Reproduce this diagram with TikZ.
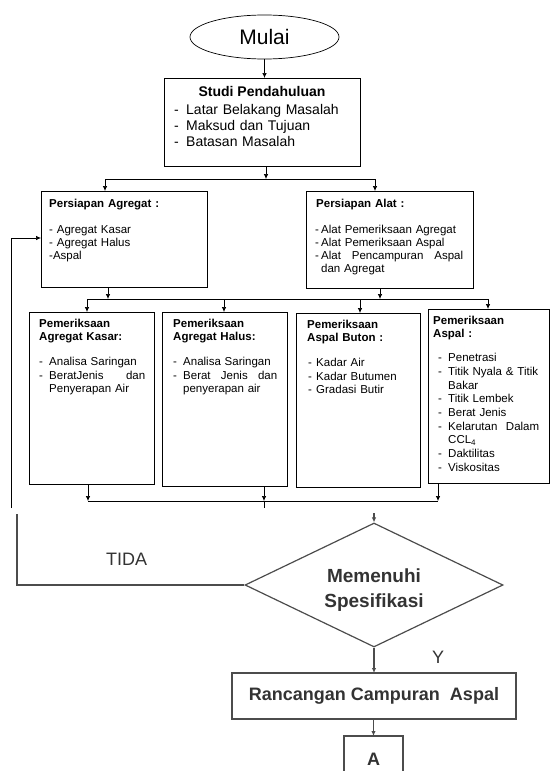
\documentclass[tikz,border=0pt]{standalone}
\usepackage{fontspec}
\setmainfont{Liberation Sans}
\usetikzlibrary{shapes.geometric,arrows.meta,calc}
\newcommand\dsh[1][9pt]{\makebox[#1][l]{-}}
\newcommand\hind[1][9pt]{\hspace*{#1}}
\newcommand\jline[2]{\makebox[#1][l]{#2}}
\begin{document}
\begin{tikzpicture}[x=1pt,y=-1pt,
  box/.style={draw, line width=0.7pt, anchor=north west, inner sep=0pt, outer sep=0pt},
  txt/.style={anchor=base west, inner sep=0pt, align=left, text width=130pt, font=\fontsize{11.5}{13.7}\selectfont},
  arr/.style={-{Latex[length=5pt,width=4.5pt]}, line width=0.7pt},
  ln/.style={line width=0.7pt},
  low/.style={line width=1.2pt, draw=black!70},
  lowtxt/.style={text=black!80, inner sep=0pt}
]
\useasboundingbox (0,0) rectangle (559,771);
% --- nodes
\node[ellipse, draw, line width=0.7pt, minimum width=149pt, minimum height=44pt, inner sep=0pt,
      font=\fontsize{21}{24}\selectfont] (mulai) at (264.5,37) {Mulai};
\node[box, minimum width=196pt, minimum height=88pt] (studi) at (164,78) {};
\node[anchor=base, inner sep=0pt, font=\fontsize{14}{16}\selectfont\bfseries] (studiT) at (262,96) {Studi Pendahuluan};
\node[txt, text width=180pt, font=\fontsize{14}{16}\selectfont] (studiL) at (174,114)
  {\dsh[12pt]Latar Belakang Masalah\\ \dsh[12pt]Maksud dan Tujuan\\ \dsh[12pt]Batasan Masalah};

\node[box, minimum width=166pt, minimum height=96pt] (pa) at (41,191) {};
\node[txt, font=\fontsize{11.5}{13}\selectfont] (paT) at (49,207)
  {\textbf{Persiapan Agregat :}\\[13pt]- Agregat Kasar\\- Agregat Halus\\-Aspal};

\node[box, minimum width=167pt, minimum height=97pt] (alat) at (306,191) {};
\node[txt, text width=160pt, font=\fontsize{11.5}{13}\selectfont] (alatT) at (315,207)
  {\hind[1pt]\textbf{Persiapan Alat :}\\[13pt]\dsh[6pt]Alat Pemeriksaan Agregat\\ \dsh[6pt]Alat Pemeriksaan Aspal\\
   \dsh[6pt]\jline{142pt}{Alat\hfill Pencampuran\hfill Aspal}\\ \hind[6pt]dan Agregat};

\node[box, minimum width=125pt, minimum height=172pt] (kasar) at (29,312) {};
\node[txt] (kasarT) at (39,327)
  {\textbf{Pemeriksaan}\\ \textbf{Agregat Kasar:}\\[11pt]\dsh[10pt]Analisa Saringan\\
   \dsh[10pt]\jline{96pt}{BeratJenis\hfill dan}\\ \hind[10pt]Penyerapan Air};

\node[box, minimum width=125pt, minimum height=174pt] (halus) at (162,312) {};
\node[txt] (halusT) at (173,327)
  {\textbf{Pemeriksaan}\\ \textbf{Agregat Halus:}\\[11pt]\dsh[10pt]Analisa Saringan\\
   \dsh[10pt]\jline{94pt}{Berat\hfill Jenis\hfill dan}\\ \hind[10pt]penyerapan air};

\node[box, minimum width=124pt, minimum height=174pt] (buton) at (296,313) {};
\node[txt] (butonT) at (307,328)
  {\textbf{Pemeriksaan}\\ \textbf{Aspal Buton :}\\[11pt]\hind[1pt]\dsh[8pt]Kadar Air\\
   \hind[1pt]\dsh[8pt]Kadar Butumen\\ \hind[1pt]\dsh[8pt]Gradasi Butir};

\node[box, minimum width=121pt, minimum height=174pt] (aspal) at (428,309) {};
\node[txt] (aspalT) at (433,324)
  {\textbf{Pemeriksaan}\\ \textbf{Aspal :}\\[10.3pt]
   \hind[5pt]\dsh[10pt]Penetrasi\\
   \hind[5pt]\dsh[10pt]Titik Nyala \& Titik\\
   \hind[15pt]Bakar\\
   \hind[5pt]\dsh[10pt]Titik Lembek\\
   \hind[5pt]\dsh[10pt]Berat Jenis\\
   \hind[5pt]\dsh[10pt]\jline{91pt}{Kelarutan\hfill Dalam}\\
   \hind[15pt]CCL\textsubscript{4}\\
   \hind[5pt]\dsh[10pt]Daktilitas\\
   \hind[5pt]\dsh[10pt]Viskositas};

\node[diamond, draw=black!70, line width=1.2pt, minimum width=258pt, minimum height=124pt, inner sep=0pt] (dia) at (374,585) {};
\node[lowtxt, anchor=base, align=center, text width=140pt, font=\fontsize{19}{25}\selectfont\bfseries] (diaT) at (374,582) {Memenuhi\\Spesifikasi};

\node[box, draw=black!70, line width=1.2pt, minimum width=284pt, minimum height=46pt, anchor=north west,
      text=black!80, font=\fontsize{18}{20}\selectfont\bfseries] (rc) at (232,673) {Rancangan Campuran\ \ Aspal};
\node[box, draw=black!70, line width=1.2pt, minimum width=59pt, minimum height=46pt, anchor=north west,
      text=black!80, font=\fontsize{18}{20}\selectfont\bfseries] (abox) at (344,736) {A};

\node[lowtxt, anchor=base west, font=\fontsize{18}{20}\selectfont] (tida) at (106,565) {TIDA};
\node[lowtxt, anchor=base west, font=\fontsize{18}{20}\selectfont] (ylab) at (432,663) {Y};

% --- junction coordinates
\coordinate (j1) at (266,179);
\coordinate (jL) at (105,179);
\coordinate (jR) at (375,179);
\coordinate (k1) at (108,299);
\coordinate (k2) at (380,299);
\coordinate (d1) at (87,299);
\coordinate (d2) at (224,299);
\coordinate (d3) at (360,299);
\coordinate (d4) at (488,299);
\coordinate (e1) at (88,501);
\coordinate (e2) at (264,501);
\coordinate (e3) at (438,501);
\coordinate (e2s) at (264,508);
\coordinate (dtop) at (374,513);
\coordinate (fb1) at (11,508);
\coordinate (fb2) at (11,238);
\coordinate (fb3) at (17,514);
\coordinate (fb4) at (17,585);

% --- connectors
\draw[arr] (mulai.south) -- (mulai.south |- studi.north);
\draw[arr] (j1 |- studi.south) -- (j1);
\draw[ln] (jL) -- (jR);
\draw[arr] (jL) -- (jL |- pa.north);
\draw[arr] (jR) -- (jR |- alat.north);

\draw[arr] (k1 |- pa.south) -- (k1);
\draw[arr] (k2 |- alat.south) -- (k2);
\draw[ln] (d1) -- (d4);
\draw[arr] (d1) -- (d1 |- kasar.north);
\draw[arr] (d2) -- (d2 |- halus.north);
\draw[arr] (d3) -- (d3 |- buton.north);
\draw[arr] (d4) -- (d4 |- aspal.north);

\draw[arr] (e1 |- kasar.south) -- (e1);
\draw[arr] (e2 |- halus.south) -- (e2);
\draw[arr] (e3 |- aspal.south) -- (e3);
\draw[ln] (e1) -- (e3);
\draw[ln] (e2) -- (e2s);
\draw[arr, low] (dtop) -- (dia.north);

\draw[arr] (fb1) -- (fb2) -- (pa.west |- fb2);
\draw[low] (dia.west) -- (fb4) -- (fb3);

\draw[arr, low] (dia.south) -- (dia.south |- rc.north);
\draw[arr, low] (rc.south -| abox.north) -- (abox.north);
\end{tikzpicture}
\end{document}
